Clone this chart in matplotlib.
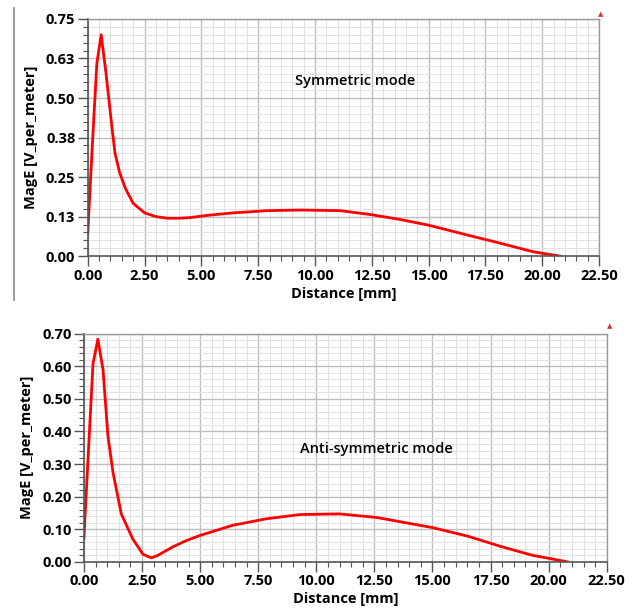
import numpy as np
import matplotlib
matplotlib.use("Agg")
import matplotlib.pyplot as plt
from matplotlib.ticker import MultipleLocator, FixedLocator
from matplotlib.lines import Line2D

plt.rcParams['font.family'] = ['Open Sans', 'DejaVu Sans']

# symmetric mode
sym_x = [0.0, 0.2, 0.4, 0.59, 0.8, 1.06, 1.2, 1.4, 1.65, 2.0, 2.5, 3.0, 3.5, 4.0, 4.5,
         5.25, 6.4, 7.9, 9.4, 11.1, 12.5, 13.75, 15.0, 16.7, 18.1, 19.6, 20.8]
sym_y = [0.072, 0.35, 0.61, 0.70, 0.58, 0.41, 0.325, 0.265, 0.215, 0.167, 0.137, 0.125,
         0.120, 0.120, 0.122, 0.129, 0.137, 0.144, 0.146, 0.144, 0.131, 0.116, 0.098,
         0.067, 0.042, 0.014, 0.0]

# anti-symmetric mode, bottom panel
anti_x = [0.0, 0.2, 0.39, 0.6, 0.82, 1.03, 1.25, 1.61, 2.11, 2.54, 2.9, 3.19, 3.5, 3.83,
          4.4, 5.0, 6.4, 7.85, 9.3, 11.0, 12.6, 15.0, 16.5, 17.9, 19.3, 20.8]
anti_y = [0.074, 0.35, 0.608, 0.683, 0.59, 0.387, 0.274, 0.146, 0.069, 0.023, 0.012,
          0.02, 0.033, 0.046, 0.065, 0.081, 0.112, 0.132, 0.145, 0.147, 0.136, 0.105,
          0.079, 0.048, 0.02, 0.0]

x_ticks = [0, 2.5, 5, 7.5, 10, 12.5, 15, 17.5, 20, 22.5]
x_labels = ["0.00", "2.50", "5.00", "7.50", "10.00", "12.50", "15.00", "17.50", "20.00", "22.50"]
sym_yticks = [0, 0.125, 0.25, 0.375, 0.5, 0.625, 0.75]
sym_ylabels = ["0.00", "0.13", "0.25", "0.38", "0.50", "0.63", "0.75"]
anti_yticks = [0, 0.1, 0.2, 0.3, 0.4, 0.5, 0.6, 0.7]
anti_ylabels = ["0.00", "0.10", "0.20", "0.30", "0.40", "0.50", "0.60", "0.70"]

fig = plt.figure(figsize=(6.36, 6.10), dpi=100)
ax1 = fig.add_axes([0.138, 0.580, 0.804, 0.389])
ax2 = fig.add_axes([0.132, 0.079, 0.822, 0.374])


def style(ax, yticks, ylabels, ymax, yminor, title, tx, ty):
    ax.set_xlim(0, 22.5)
    ax.set_ylim(0, ymax)
    ax.xaxis.set_major_locator(FixedLocator(x_ticks))
    ax.set_xticklabels(x_labels, fontsize=10.5, fontweight='bold')
    ax.xaxis.set_minor_locator(MultipleLocator(0.5))
    ax.yaxis.set_major_locator(FixedLocator(yticks))
    ax.set_yticklabels(ylabels, fontsize=10.5, fontweight='bold')
    ax.yaxis.set_minor_locator(MultipleLocator(yminor))
    ax.grid(which='major', color='#bdbdbd', lw=1.0)
    ax.grid(which='minor', color='#e2e2e2', lw=0.7)
    ax.set_axisbelow(True)
    ax.tick_params(which='major', direction='out', length=7, width=1, color='#555555', pad=2)
    ax.tick_params(which='minor', direction='out', length=3.5, width=0.8, color='#555555')
    for s in ['left', 'bottom']:
        ax.spines[s].set_color('#555555')
        ax.spines[s].set_linewidth(1.2)
    for s in ['top', 'right']:
        ax.spines[s].set_color('#999999')
        ax.spines[s].set_linewidth(1.0)
    ax.set_xlabel('Distance [mm]', fontsize=10.5, fontweight='bold', labelpad=3)
    ax.set_ylabel('MagE [V_per_meter]', fontsize=10.5, fontweight='bold', labelpad=6)
    ax.text(tx, ty, title, fontsize=10.5, fontweight='semibold', transform=ax.transData)


ax1.plot(sym_x, sym_y, color='#ff0000', lw=2)
style(ax1, sym_yticks, sym_ylabels, 0.75, 0.125 / 5, 'Symmetric mode', 9.1, 0.54)

ax2.plot(anti_x, anti_y, color='#ff0000', lw=2)
style(ax2, anti_yticks, anti_ylabels, 0.70, 0.02, 'Anti-symmetric mode', 9.3, 0.335)

# thin grey border on the left of the top panel
fig.add_artist(Line2D([14 / 636, 14 / 636], [1 - 8 / 610, 1 - 300 / 610],
                      color='#888888', lw=1.2))
# small red markers in the top right corners
fig.text(601 / 636, 1 - 14 / 610, '\u25b2', color='#e03030', fontsize=5,
         family='DejaVu Sans', ha='center', va='center')
fig.text(610 / 636, 1 - 326 / 610, '\u25b2', color='#e03030', fontsize=5,
         family='DejaVu Sans', ha='center', va='center')

fig.savefig('out.png', dpi=100)
